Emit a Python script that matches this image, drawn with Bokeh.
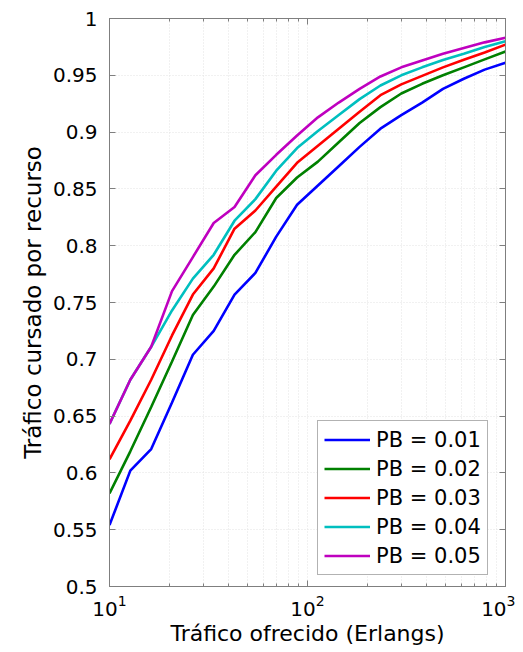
from bokeh.plotting import figure
from bokeh.models import (Range1d, FixedTicker, LinearAxis, LogAxis,
                          CustomJSTickFormatter, Legend, LegendItem)
from bokeh.embed import file_html
from bokeh.resources import INLINE

# ---- data ----
traffic = [10.0, 12.74, 16.24, 20.69, 26.37, 33.60, 42.81, 54.56, 69.52, 88.59,
           112.88, 143.84, 183.30, 233.57, 297.64, 379.27, 483.29, 615.85, 784.76, 1000.0]
pb01 = [0.554, 0.602, 0.621, 0.662, 0.704, 0.725, 0.757, 0.776, 0.808, 0.836,
        0.853, 0.870, 0.887, 0.903, 0.915, 0.926, 0.938, 0.947, 0.955, 0.961]
pb02 = [0.582, 0.619, 0.658, 0.698, 0.739, 0.764, 0.792, 0.812, 0.842, 0.860,
        0.874, 0.891, 0.908, 0.922, 0.934, 0.9425, 0.950, 0.957, 0.964, 0.971]
pb03 = [0.612, 0.646, 0.682, 0.721, 0.757, 0.780, 0.815, 0.831, 0.852, 0.873,
        0.888, 0.903, 0.918, 0.9325, 0.942, 0.9495, 0.957, 0.9637, 0.970, 0.977]
pb04 = [0.643, 0.682, 0.711, 0.743, 0.771, 0.792, 0.822, 0.841, 0.866, 0.886,
        0.901, 0.915, 0.929, 0.941, 0.950, 0.957, 0.9635, 0.969, 0.975, 0.980]
pb05 = [0.643, 0.682, 0.711, 0.760, 0.790, 0.820, 0.834, 0.862, 0.880, 0.897,
        0.913, 0.926, 0.938, 0.949, 0.957, 0.963, 0.969, 0.974, 0.979, 0.983]
series_labels = ["PB = 0.01", "PB = 0.02", "PB = 0.03", "PB = 0.04", "PB = 0.05"]
series_values = [pb01, pb02, pb03, pb04, pb05]
colors = ["#0000ff", "#008000", "#ff0000", "#00bfbf", "#bf00bf"]

y_ticks = [0.5, 0.55, 0.6, 0.65, 0.7, 0.75, 0.8, 0.85, 0.9, 0.95, 1.0]
y_tick_labels = ["0.5", "0.55", "0.6", "0.65", "0.7", "0.75", "0.8", "0.85", "0.9", "0.95", "1"]
x_major = [10, 100, 1000]
x_minor = [20, 30, 40, 50, 60, 70, 80, 90, 200, 300, 400, 500, 600, 700, 800, 900]

FONT = "DejaVu Sans"
AX = "#7f7f7f"

p = figure(width=515, height=650, x_axis_type="log",
           x_range=Range1d(10, 1000), y_range=Range1d(0.5, 1.0),
           output_backend="svg", toolbar_location=None,
           min_border_left=109, min_border_right=10,
           min_border_top=18, min_border_bottom=64)
p.background_fill_color = "white"
p.border_fill_color = "white"
p.outline_line_color = AX

# grids
p.xgrid.ticker = FixedTicker(ticks=x_major, minor_ticks=x_minor)
p.ygrid.ticker = FixedTicker(ticks=y_ticks)
p.xgrid.grid_line_color = "#e2e2e2"
p.xgrid.grid_line_dash = "1 2"
p.xgrid.minor_grid_line_color = "#e2e2e2"
p.xgrid.minor_grid_line_dash = "1 2"
p.ygrid.grid_line_color = "#e2e2e2"
p.ygrid.grid_line_dash = "1 2"


def style(ax, labels=True):
    ax.axis_line_color = AX
    ax.major_tick_line_color = AX
    ax.minor_tick_line_color = AX
    ax.major_tick_in = 6
    ax.major_tick_out = 0
    ax.minor_tick_in = 3
    ax.minor_tick_out = 0
    ax.major_label_text_font = FONT
    ax.major_label_text_color = "black"
    ax.axis_label_text_font = FONT
    ax.axis_label_text_font_style = "normal"
    ax.axis_label_text_color = "black"
    if not labels:
        ax.formatter = CustomJSTickFormatter(code="return ''")


xa = p.xaxis[0]
style(xa)
xa.ticker = FixedTicker(ticks=x_major, minor_ticks=x_minor)
xa.major_label_text_font_size = "20px"
xa.major_label_standoff = 8
xa.axis_label = "Tráfico ofrecido (Erlangs)"
xa.axis_label_text_font_size = "22px"
xa.axis_label_standoff = 2

ya = p.yaxis[0]
style(ya)
ya.ticker = FixedTicker(ticks=y_ticks)
ya.minor_tick_in = 0
ya.major_label_overrides = {t: s for t, s in zip(y_ticks, y_tick_labels)}
ya.major_label_text_font_size = "20px"
ya.major_label_standoff = 12
ya.axis_label = "Tráfico cursado por recurso"
ya.axis_label_text_font_size = "23px"
ya.axis_label_standoff = 4

top = LogAxis(ticker=FixedTicker(ticks=x_major, minor_ticks=x_minor))
style(top, labels=False)
top.major_label_text_font_size = "1px"
p.add_layout(top, "above")
right = LinearAxis(ticker=FixedTicker(ticks=y_ticks))
style(right, labels=False)
right.minor_tick_in = 0
right.major_label_text_font_size = "1px"
p.add_layout(right, "right")

items = []
for lab, vals, c in zip(series_labels, series_values, colors):
    r = p.line(traffic, vals, line_color=c, line_width=2.6)
    items.append(LegendItem(label=lab, renderers=[r]))

leg = Legend(items=items, location=(208, 11))
leg.label_text_font = FONT
leg.label_text_font_size = "21px"
leg.label_text_color = "black"
leg.glyph_width = 46
leg.glyph_height = 25
leg.label_height = 25
leg.label_standoff = 6
leg.spacing = 4
leg.padding = 6
leg.margin = 0
leg.border_line_color = "#666666"
leg.border_line_width = 1
leg.background_fill_color = "white"
leg.background_fill_alpha = 1
p.add_layout(leg, "center")

open("out.html", "w").write(file_html(p, INLINE))
